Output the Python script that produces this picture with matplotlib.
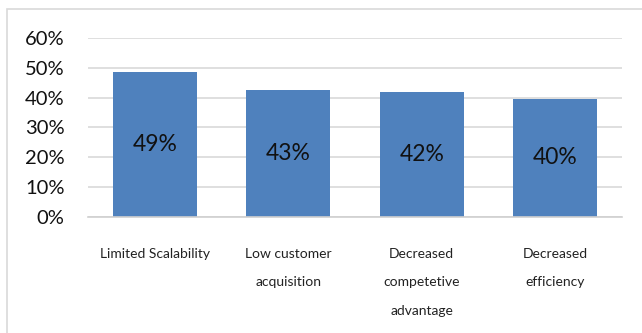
import matplotlib.pyplot as plt
from matplotlib.patches import Rectangle
from matplotlib.ticker import PercentFormatter

categories = ["Limited Scalability", "Low customer\nacquisition",
              "Decreased\ncompetetive\nadvantage", "Decreased\nefficiency"]
shares = [0.487, 0.426, 0.418, 0.396]
yticks = [0, 0.1, 0.2, 0.3, 0.4, 0.5, 0.6]

plt.rcParams['font.family'] = ['Lato', 'DejaVu Sans']

W, H = 642, 333
fig = plt.figure(figsize=(W / 100, H / 100), dpi=100)

# light frame around the chart
fig.patches.append(Rectangle((7 / W, -0.1), 1.1, 1 - 9 / H + 0.1,
                             transform=fig.transFigure, fill=False,
                             edgecolor='#d9d9d9', linewidth=1.2))

ax = fig.add_axes([88 / W, 1 - 217 / H, 534 / W, 179 / H])

x = range(len(categories))
bars = ax.bar(x, shares, width=0.63, color='#4f81bd', zorder=2)
ax.bar_label(bars, labels=[f"{v:.0%}" for v in shares],
             label_type='center', fontsize=16.5, color='#111111')

ax.set_xlim(-0.5, len(categories) - 0.5)
ax.set_ylim(0, 0.6)
ax.set_yticks(yticks)
ax.yaxis.set_major_formatter(PercentFormatter(1.0, decimals=0))
ax.grid(axis='y', color='#d9d9d9', linewidth=1.2, zorder=0)

for s in ['top', 'right', 'left']:
    ax.spines[s].set_visible(False)
ax.spines['bottom'].set_color('#d0d0d0')
ax.spines['bottom'].set_linewidth(1.2)

ax.tick_params(axis='y', length=0, labelsize=14.5, pad=17, labelcolor='#111111')
ax.tick_params(axis='x', length=0, pad=22)
ax.set_xticks(list(x))
ax.set_xticklabels(categories, fontsize=10, linespacing=2.65, va='top',
                   color='#222222')

fig.savefig('out.png', dpi=100)
